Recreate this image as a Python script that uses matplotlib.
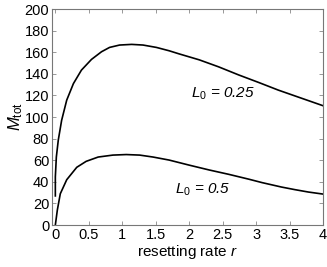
import numpy as np
import matplotlib.pyplot as plt

plt.rcParams['font.family'] = ['Liberation Sans', 'DejaVu Sans']
plt.rcParams['mathtext.fontset'] = 'custom'
plt.rcParams['mathtext.rm'] = 'Liberation Sans'
plt.rcParams['mathtext.it'] = 'Liberation Sans:italic'

# values
r_upper = [0.0, 0.0, 0.015, 0.044, 0.094, 0.17, 0.27, 0.39, 0.54, 0.69, 0.81,
           0.96, 1.14, 1.31, 1.51, 1.70, 1.85, 2.15, 2.44, 2.74, 3.04, 3.33,
           3.63, 4.0]
m_upper = [27, 44.7, 63, 78.7, 97, 115.7, 131, 143.5, 153.4, 160.5, 164.5,
           166.7, 167.3, 166.7, 164.5, 161.4, 158.5, 153, 146.5, 139, 132, 125,
           118.5, 110.5]

r_lower = [0.0, 0.03, 0.074, 0.17, 0.32, 0.46, 0.64, 0.86, 1.06, 1.26,
           1.46, 1.70, 2.0, 2.30, 2.59, 2.89, 3.09, 3.38, 3.58, 3.78, 4.0]
m_lower = [0, 14, 29, 42, 53.5, 59, 63, 64.8, 65.3, 64.8,
           63, 60.2, 55.5, 51, 47, 42.5, 39.3, 35.2, 32.8, 30.6, 28.7]

xticks = [0, 0.5, 1, 1.5, 2, 2.5, 3, 3.5, 4]
xticklabels = ['0', '0.5', '1', '1.5', '2', '2.5', '3', '3.5', '4']
yticks = list(range(0, 201, 20))

fig = plt.figure(figsize=(3.27, 2.67), dpi=100)
ax = fig.add_axes([0.159, 0.157, 0.829, 0.809])

ax.plot(r_upper, m_upper, color='black', linewidth=1.2, solid_joinstyle='round')
ax.plot(r_lower, m_lower, color='black', linewidth=1.2, solid_joinstyle='round')

ax.set_xlim(-0.05, 4)
ax.set_ylim(0, 200)
ax.set_xticks(xticks)
ax.set_xticklabels(xticklabels)
ax.set_yticks(yticks)
ax.tick_params(direction='in', length=3, width=0.6, labelsize=10.5,
               top=True, right=True, color='#888888', pad=2)
for s in ax.spines.values():
    s.set_linewidth(0.8)
    s.set_color('#777777')

ax.set_xlabel(r'resetting rate $\mathit{r}$', fontsize=11, labelpad=1)
ax.set_ylabel(r'$\mathit{M}_{\mathrm{tot}}$', fontsize=12, labelpad=0)

ax.text(2.03, 118, r'$\mathit{L}_{\mathit{0}}$ = 0.25', fontsize=11,
        style='italic', va='baseline')
ax.text(1.79, 29, r'$\mathit{L}_{\mathit{0}}$ = 0.5', fontsize=11,
        style='italic', va='baseline')

fig.savefig('out.png', dpi=100)
